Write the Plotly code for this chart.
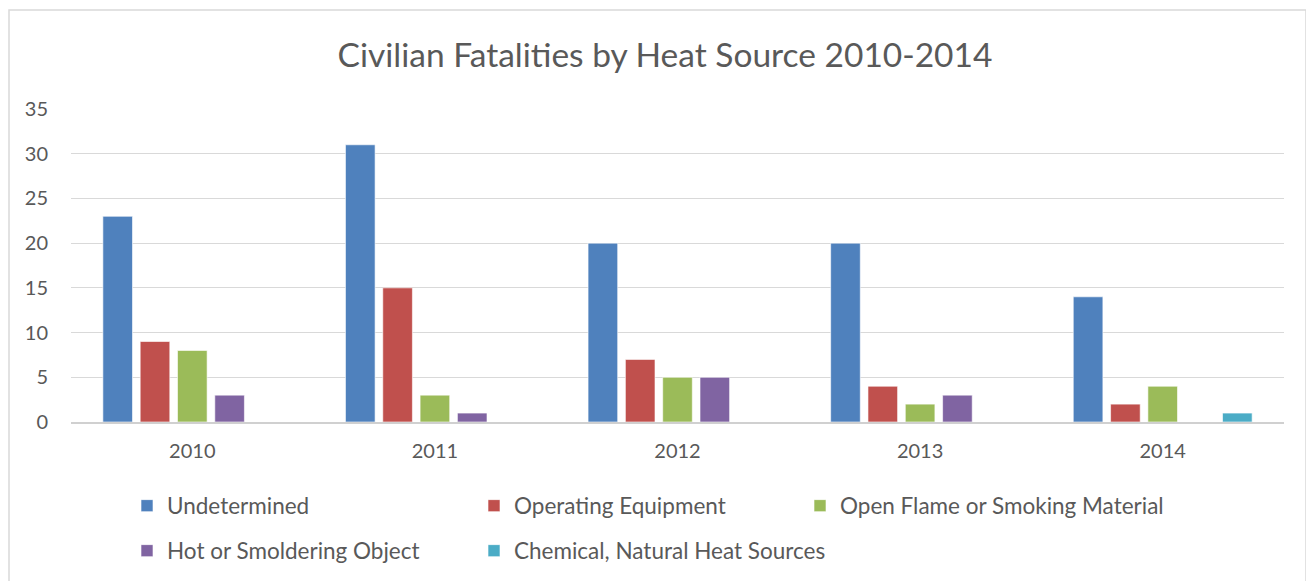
import plotly.graph_objects as go

years = ["2010", "2011", "2012", "2013", "2014"]
series_names = ["Undetermined", "Operating Equipment", "Open Flame or Smoking Material",
                "Hot or Smoldering Object", "Chemical, Natural Heat Sources"]
undetermined = [23, 31, 20, 20, 14]
operating_equipment = [9, 15, 7, 4, 2]
open_flame = [8, 3, 5, 2, 4]
hot_object = [3, 1, 5, 3, 0]
chemical = [0, 0, 0, 0, 1]
colors = ["#4F81BD", "#C0504D", "#9BBB59", "#8064A2", "#4BACC6"]

values = [undetermined, operating_equipment, open_flame, hot_object, chemical]

# page offset (browser default body margin)
OFF = 8
W, H = 1314, 581
L = 71 - OFF
T = 109 - OFF
y0px = 422 - OFF           # zero line, figure pixel coords
R = W - (1284 - OFF)
B = H - y0px
pw, ph = W - L - R, H - T - B

# legend slot positions (screen pixels): legend left x, text center y
legend_pos = [(127, 506), (474, 506), (800, 506), (127, 551), (474, 551)]

fig = go.Figure()
for i, (name, vals, c) in enumerate(zip(series_names, values, colors)):
    lg = "legend" if i == 0 else f"legend{i+1}"
    fig.add_trace(go.Bar(x=years, y=vals, name=name, marker_color=c,
                         marker_line=dict(color="rgba(255,255,255,0.6)", width=1),
                         legend=lg))

legend_common = dict(orientation="h", xanchor="left", yanchor="middle",
                     font=dict(size=22.5, color="#595959"), itemwidth=30,
                     bgcolor="rgba(0,0,0,0)")
layout_legends = {}
for i, (lx, ly) in enumerate(legend_pos):
    key = "legend" if i == 0 else f"legend{i+1}"
    layout_legends[key] = dict(legend_common, x=(lx - OFF - L) / pw,
                               y=-(ly - OFF - y0px) / ph)

fig.update_layout(
    width=W, height=H,
    margin=dict(l=L, r=R, t=T, b=B, autoexpand=False),
    paper_bgcolor="white", plot_bgcolor="white",
    barmode="group", bargap=0.231, bargroupgap=0.206,
    font=dict(family="Lato, Open Sans, sans-serif", color="#595959", size=20),
    title=dict(text="Civilian Fatalities by Heat Source 2010-2014",
               x=0.5, xanchor="center", y=1 - (55 - OFF) / H, yanchor="middle",
               font=dict(size=33.5, color="#595959")),
    xaxis=dict(showgrid=False, showline=True, linecolor="#D0D0D0", linewidth=2,
               ticks="", tickfont=dict(size=20), ticklabelstandoff=10),
    yaxis=dict(range=[0, 35], dtick=5, showgrid=True, gridcolor="#D9D9D9", gridwidth=1,
               zeroline=False, ticks="", tickfont=dict(size=20), ticklabelstandoff=22),
    showlegend=True,
    **layout_legends,
)

fig.add_shape(type="rect", xref="paper", yref="paper",
              x0=(1 - L) / pw, x1=(1306 - OFF - L) / pw,
              y0=-(H + 5 - y0px) / ph, y1=(y0px - (10 - OFF)) / ph,
              line=dict(color="#D9D9D9", width=1.5), fillcolor="rgba(0,0,0,0)", layer="below")

fig.write_html("out.html")
